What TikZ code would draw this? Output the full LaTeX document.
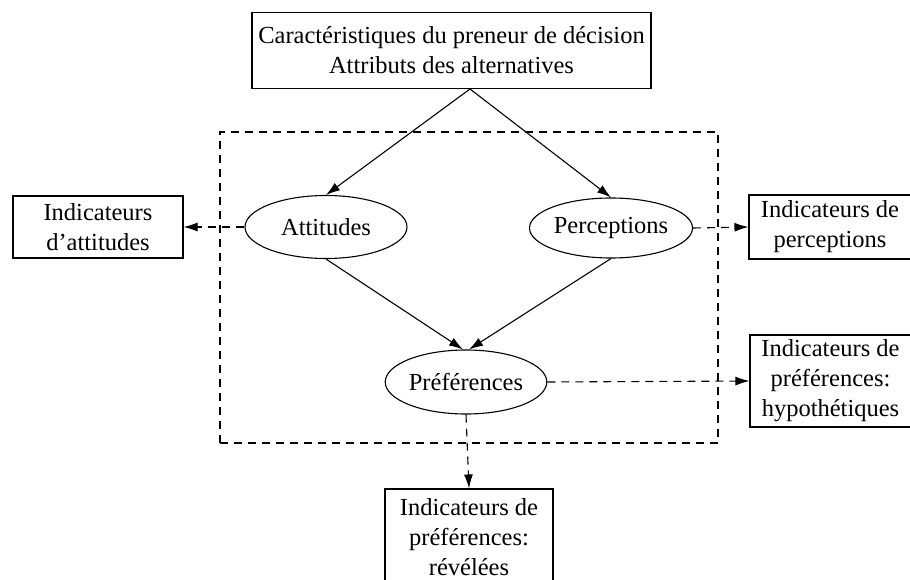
\documentclass[tikz,border=0pt]{standalone}
\usepackage{fontspec}
\setmainfont{Liberation Serif}
\usetikzlibrary{shapes.geometric,arrows.meta}
\begin{document}
\begin{tikzpicture}[x=1pt,y=-1pt,
  txt/.style={font=\fontsize{24.5}{30}\selectfont},
  box/.style={txt,draw,line width=1.1pt,rectangle,inner sep=0pt,align=center},
  oval/.style={txt,draw,line width=1.1pt,ellipse,inner sep=0pt},
  arr/.style={-{Latex[length=14pt,width=9pt]},line width=1.1pt},
  darr/.style={arr,dash pattern=on 8pt off 6pt},
  frame/.style={draw,line width=1.1pt,dash pattern=on 8pt off 6pt,inner sep=0pt}]
\useasboundingbox (0,0) rectangle (910,580);
\fill[white] (0,0) rectangle (910,580);
\node[frame,minimum width=498pt,minimum height=311pt] (fr) at (469,287.5) {};
\node[box,minimum width=399pt,minimum height=76pt] (top) at (451.5,50.5)
  {Caractéristiques du preneur de décision\\Attributs des alternatives};
\coordinate (apex) at (470,89);
\node[oval,minimum width=162pt,minimum height=63pt] (att) at (326,227) {Attitudes};
\node[oval,minimum width=163pt,minimum height=60pt] (per) at (611,228) {Perceptions};
\node[oval,minimum width=156pt,minimum height=64pt] (pref) at (466,382) {Préférences};
\node[box,minimum width=170pt,minimum height=62pt] (ia) at (98,227) {Indicateurs\\d’attitudes};
\node[box,minimum width=162pt,minimum height=64pt] (ip) at (830,227) {Indicateurs de\\perceptions};
\node[box,minimum width=161pt,minimum height=92pt] (ih) at (830.5,381) {Indicateurs de\\préférences:\\hypothétiques};
\node[box,minimum width=168pt,minimum height=96pt] (ir) at (469,537) {Indicateurs de\\préférences:\\révélées};
\draw[arr] (apex) -- (att.north);
\draw[arr] (apex) -- (per.north);
\draw[arr] (att.south) -- ([xshift=-3pt]pref.north);
\draw[arr] (per.south) -- ([xshift=3pt]pref.north);
\draw[darr] (att.west) -- (ia.east);
\draw[darr] (per.east) -- (ip.west);
\draw[darr] (pref.east) -- (ih.west);
\draw[darr] (pref.south) -- (ir.north);
\end{tikzpicture}
\end{document}
